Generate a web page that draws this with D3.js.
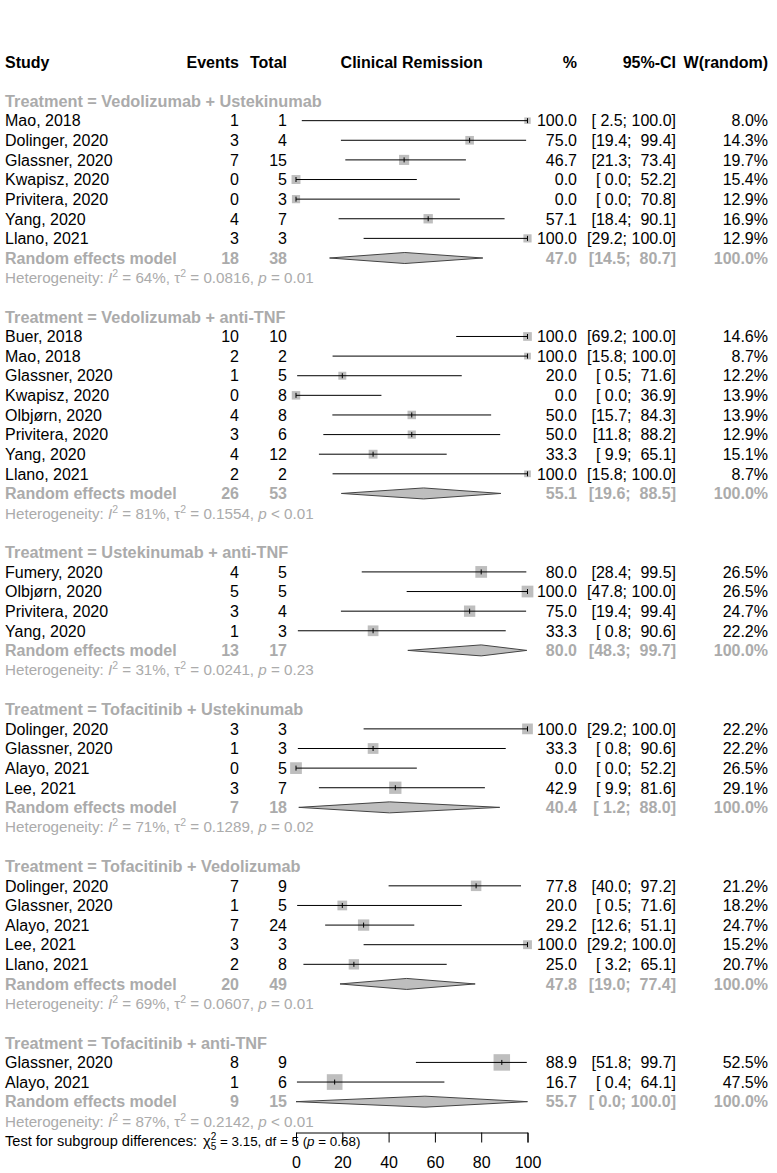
<!DOCTYPE html>
<html><head><meta charset="utf-8">
<script src="https://cdn.jsdelivr.net/npm/d3@7"></script>
<style>
body{margin:0;background:#fff}
svg text{font-family:"Liberation Sans",Arial,Helvetica,sans-serif;white-space:pre}
</style>
</head><body>
<svg id="chart" width="777" height="1173"></svg>
<script>
// ---------------- data ----------------
const groupNames = [
  "Treatment = Vedolizumab + Ustekinumab",
  "Treatment = Vedolizumab + anti-TNF",
  "Treatment = Ustekinumab + anti-TNF",
  "Treatment = Tofacitinib + Ustekinumab",
  "Treatment = Tofacitinib + Vedolizumab",
  "Treatment = Tofacitinib + anti-TNF"
];
const groupSizes = [7, 8, 4, 4, 5, 2];
const studyLabels = [
  "Mao, 2018","Dolinger, 2020","Glassner, 2020","Kwapisz, 2020","Privitera, 2020","Yang, 2020","Llano, 2021",
  "Buer, 2018","Mao, 2018","Glassner, 2020","Kwapisz, 2020","Olbjørn, 2020","Privitera, 2020","Yang, 2020","Llano, 2021",
  "Fumery, 2020","Olbjørn, 2020","Privitera, 2020","Yang, 2020",
  "Dolinger, 2020","Glassner, 2020","Alayo, 2021","Lee, 2021",
  "Dolinger, 2020","Glassner, 2020","Alayo, 2021","Lee, 2021","Llano, 2021",
  "Glassner, 2020","Alayo, 2021"
];
const events = [1,3,7,0,0,4,3, 10,2,1,0,4,3,4,2, 4,5,3,1, 3,1,0,3, 7,1,7,3,2, 8,1];
const totals = [1,4,15,5,3,7,3, 10,2,5,8,8,6,12,2, 5,5,4,3, 3,3,5,7, 9,5,24,3,8, 9,6];
const estimates = [100.0,75.0,46.7,0.0,0.0,57.1,100.0, 100.0,100.0,20.0,0.0,50.0,50.0,33.3,100.0,
  80.0,100.0,75.0,33.3, 100.0,33.3,0.0,42.9, 77.8,20.0,29.2,100.0,25.0, 88.9,16.7];
const ciLower = [2.5,19.4,21.3,0.0,0.0,18.4,29.2, 69.2,15.8,0.5,0.0,15.7,11.8,9.9,15.8,
  28.4,47.8,19.4,0.8, 29.2,0.8,0.0,9.9, 40.0,0.5,12.6,29.2,3.2, 51.8,0.4];
const ciUpper = [100.0,99.4,73.4,52.2,70.8,90.1,100.0, 100.0,100.0,71.6,36.9,84.3,88.2,65.1,100.0,
  99.5,100.0,99.4,90.6, 100.0,90.6,52.2,81.6, 97.2,71.6,51.1,100.0,65.1, 99.7,64.1];
const weights = [8.0,14.3,19.7,15.4,12.9,16.9,12.9, 14.6,8.7,12.2,13.9,13.9,12.9,15.1,8.7,
  26.5,26.5,24.7,22.2, 22.2,22.2,26.5,29.1, 21.2,18.2,24.7,15.2,20.7, 52.5,47.5];
const pooledEvents = [18, 26, 13, 7, 20, 9];
const pooledTotals = [38, 53, 17, 18, 49, 15];
const pooledEst = [47.0, 55.1, 80.0, 40.4, 47.8, 55.7];
const pooledLower = [14.5, 19.6, 48.3, 1.2, 19.0, 0.0];
const pooledUpper = [80.7, 88.5, 99.7, 88.0, 77.4, 100.0];
const hetI2 = ["64%", "81%", "31%", "71%", "69%", "87%"];
const hetTau2 = ["0.0816", "0.1554", "0.0241", "0.1289", "0.0607", "0.2142"];
const hetP = ["= 0.01", "< 0.01", "= 0.23", "= 0.02", "= 0.01", "< 0.01"];
const axisTicks = [0, 20, 40, 60, 80, 100];
const columnHeaders = ["Study", "Events", "Total", "Clinical Remission", "%", "95%-CI", "W(random)"];
const subgroupTest = {chi2: "3.15", df: "5", p: "0.68"};

// ---------------- layout ----------------
const GRAY = "#ababab", BOX = "#bebebe";
const FS = 16;
const svg = d3.select("#chart");
const x = d3.scaleLinear().domain([0, 100]).range([296, 527.5]);
const y = d3.scaleLinear().domain([0, 55]).range([61.8, 1140.9]);
const colX = {study: 5, events: 239, total: 287, est: 577, ci: 676, w: 768};
const sizeScale = d3.scaleSqrt().domain([0, 52.5]).range([0, 16.5]);

const f1 = d3.format(".1f");
function pad(s, n) { while (s.length < n) s = " " + s; return s; }
function ciText(lo, hi) { return "[" + pad(f1(lo), 4) + "; " + pad(f1(hi), 5) + "]"; }

function txt(xp, row, str, opt = {}) {
  return svg.append("text")
    .attr("x", xp).attr("y", y(row)).attr("dy", "0.36em")
    .attr("xml:space", "preserve")
    .attr("text-anchor", opt.anchor || "start")
    .attr("font-size", opt.size || FS)
    .attr("font-weight", opt.bold ? "bold" : "normal")
    .attr("fill", opt.color || "#000")
    .text(str);
}

// header
const hdrAnchors = ["start", "end", "end", "middle", "end", "end", "end"];
const hdrX = [colX.study, colX.events, colX.total, (x(0) + x(100)) / 2, colX.est, colX.ci, colX.w];
columnHeaders.forEach((h, i) => txt(hdrX[i], 0, h, {anchor: hdrAnchors[i], bold: true}));

let row = 2, si = 0;
groupNames.forEach((g, gi) => {
  txt(colX.study, row, g, {bold: true, color: GRAY, size: 16.3});
  row++;
  for (let k = 0; k < groupSizes[gi]; k++, si++, row++) {
    const cy = y(row);
    txt(colX.study, row, studyLabels[si]);
    txt(colX.events, row, String(events[si]), {anchor: "end"});
    txt(colX.total, row, String(totals[si]), {anchor: "end"});
    txt(colX.est, row, f1(estimates[si]), {anchor: "end"});
    txt(colX.ci, row, ciText(ciLower[si], ciUpper[si]), {anchor: "end"});
    txt(colX.w, row, f1(weights[si]) + "%", {anchor: "end"});
    const s = sizeScale(weights[si]);
    svg.append("rect").attr("x", x(estimates[si]) - s / 2).attr("y", cy - s / 2)
      .attr("width", s).attr("height", s).attr("fill", BOX);
    svg.append("line").attr("x1", x(ciLower[si])).attr("x2", x(ciUpper[si]))
      .attr("y1", cy).attr("y2", cy).attr("stroke", "#000").attr("stroke-width", 1);
    svg.append("line").attr("x1", x(estimates[si])).attr("x2", x(estimates[si]))
      .attr("y1", cy - 2.5).attr("y2", cy + 2.5).attr("stroke", "#000").attr("stroke-width", 1);
  }
  // pooled
  const cy = y(row);
  txt(colX.study, row, "Random effects model", {bold: true, color: GRAY});
  txt(colX.events, row, String(pooledEvents[gi]), {anchor: "end", bold: true, color: GRAY});
  txt(colX.total, row, String(pooledTotals[gi]), {anchor: "end", bold: true, color: GRAY});
  txt(colX.est, row, f1(pooledEst[gi]), {anchor: "end", bold: true, color: GRAY});
  txt(colX.ci, row, ciText(pooledLower[gi], pooledUpper[gi]), {anchor: "end", bold: true, color: GRAY});
  txt(colX.w, row, "100.0%", {anchor: "end", bold: true, color: GRAY});
  const dh = 5.5;
  svg.append("path")
    .attr("d", d3.line()([[x(pooledLower[gi]), cy], [x(pooledEst[gi]), cy - dh], [x(pooledUpper[gi]), cy], [x(pooledEst[gi]), cy + dh]]) + "Z")
    .attr("fill", BOX).attr("stroke", "#444").attr("stroke-width", 1);
  row++;
  // heterogeneity
  const t = txt(colX.study, row, "Heterogeneity: ", {size: 15.2, color: GRAY});
  t.append("tspan").attr("font-style", "italic").text("I");
  t.append("tspan").attr("dy", -6).attr("font-size", 10.5).text("2");
  t.append("tspan").attr("dy", 6).text(" = " + hetI2[gi] + ", τ");
  t.append("tspan").attr("dy", -6).attr("font-size", 10.5).text("2");
  t.append("tspan").attr("dy", 6).text(" = " + hetTau2[gi] + ", ");
  t.append("tspan").attr("font-style", "italic").text("p");
  t.append("tspan").text(" " + hetP[gi]);
  row++;
  if (gi < groupNames.length - 1) row++;
});

// test for subgroup differences
const tt = txt(colX.study, row, "Test for subgroup differences: ", {size: 14.6});
tt.append("tspan").attr("dx", 2).text("χ");
tt.append("tspan").attr("dy", -6).attr("font-size", 10).text("2");
tt.append("tspan").attr("dx", -5.56).attr("dy", 10).attr("font-size", 10).text("5");
tt.append("tspan").attr("dy", -4).attr("font-size", 13.4).text(" = " + subgroupTest.chi2 + ", df = " + subgroupTest.df + " (");
tt.append("tspan").attr("font-style", "italic").attr("font-size", 13.4).text("p");
tt.append("tspan").attr("font-size", 13.4).text(" = " + subgroupTest.p + ")");

// axis
const axisG = svg.append("g").attr("transform", "translate(0,1132.5)")
  .call(d3.axisBottom(x).tickValues(axisTicks).tickSize(10).tickPadding(14).tickFormat(d3.format("d")));
axisG.select(".domain").attr("stroke", "#000");
axisG.selectAll(".tick line").attr("stroke", "#000");
axisG.selectAll(".tick text").attr("font-size", FS).attr("fill", "#000")
  .attr("font-family", '"Liberation Sans",Arial,sans-serif');
</script>
</body></html>
